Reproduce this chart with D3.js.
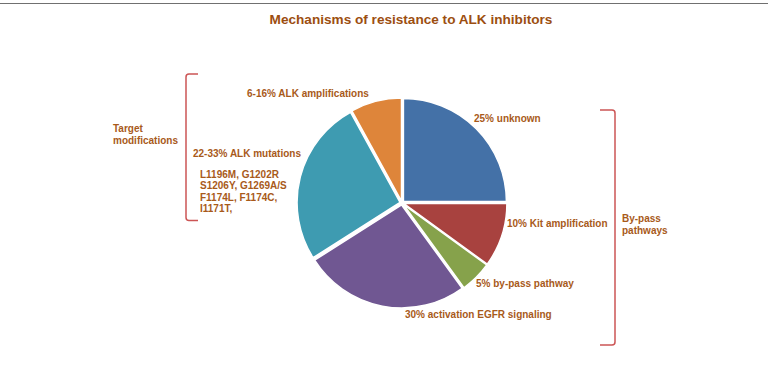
<!DOCTYPE html>
<html>
<head>
<meta charset="utf-8">
<script src="https://cdn.jsdelivr.net/npm/d3@7"></script>
<style>
  html, body { margin: 0; padding: 0; background: #fff; }
  svg { display: block; }
  text { font-family: "Liberation Sans", Arial, sans-serif; font-weight: bold; }
</style>
</head>
<body>
<svg id="chart" width="768" height="389"></svg>
<script>
// ---- data ----
const categories = ["unknown", "Kit amplification", "by-pass pathway", "activation EGFR signaling", "ALK mutations", "ALK amplifications"];
const values = [25, 10, 5, 26, 26, 8];
const sliceLabels = ["25% unknown", "10% Kit amplification", "5% by-pass pathway", "30% activation EGFR signaling", "22-33% ALK mutations", "6-16% ALK amplifications"];
const mutationLines = ["L1196M, G1202R", "S1206Y, G1269A/S", "F1174L, F1174C,", "I1171T,"];
const groupLabels = [["Target", "modifications"], ["By-pass", "pathways"]];
const titleText = "Mechanisms of resistance to ALK inhibitors";

// ---- styles / layout ----
const colors = ["#4471a7", "#a8423f", "#86a24b", "#705792", "#3e9bb1", "#de853a"];
const textColor = "#a85a1a";
const titleColor = "#9c4e10";
const bracketColor = "#cc5555";
const cx = 402, cy = 203, radius = 103, explode = 2;
// label anchor positions (x, baseline y)
const labelPos = [[474, 122], [507, 227], [476, 287], [405, 318], [193, 157], [247, 97]];

const svg = d3.select("#chart");

// top border line
svg.append("line").attr("x1", 0).attr("x2", 768).attr("y1", 3.5).attr("y2", 3.5)
  .attr("stroke", "#707070").attr("stroke-width", 1.2);

// title
svg.append("text").attr("x", 411).attr("y", 24).attr("text-anchor", "middle")
  .attr("font-size", 13.6).attr("fill", titleColor).text(titleText);

// pie
const pie = d3.pie().sort(null).value(d => d).startAngle(0).endAngle(2 * Math.PI);
const arc = d3.arc().innerRadius(0).outerRadius(radius);
const arcs = pie(values);
const g = svg.append("g").attr("transform", `translate(${cx},${cy})`);
g.selectAll("path").data(arcs).enter().append("path")
  .attr("d", arc)
  .attr("fill", (d, i) => colors[i])
  .attr("stroke", "#fff").attr("stroke-width", 1.5).attr("stroke-linejoin", "round")
  .attr("transform", d => {
    const a = (d.startAngle + d.endAngle) / 2;
    return `translate(${explode * Math.sin(a)},${-explode * Math.cos(a)})`;
  });

// slice labels
svg.selectAll("text.lbl").data(sliceLabels).enter().append("text")
  .attr("class", "lbl")
  .attr("x", (d, i) => labelPos[i][0]).attr("y", (d, i) => labelPos[i][1])
  .attr("font-size", 10).attr("fill", textColor).text(d => d);

// mutation detail lines
svg.selectAll("text.mut").data(mutationLines).enter().append("text")
  .attr("class", "mut")
  .attr("x", 200).attr("y", (d, i) => 177.5 + i * 11.5)
  .attr("font-size", 10).attr("fill", textColor).text(d => d);

// group labels
const groupPos = [[113, 132], [622, 222]];
groupLabels.forEach((lines, gi) => {
  lines.forEach((t, li) => {
    svg.append("text").attr("x", groupPos[gi][0]).attr("y", groupPos[gi][1] + li * 11.6)
      .attr("font-size", 10).attr("fill", textColor).text(t);
  });
});

// brackets
function bracket(x, y1, y2, hookX) {
  const r = 3;
  const dir = hookX > x ? 1 : -1;
  const p = d3.path();
  p.moveTo(hookX, y1);
  p.lineTo(x + dir * r, y1);
  p.quadraticCurveTo(x, y1, x, y1 + r);
  p.lineTo(x, y2 - r);
  p.quadraticCurveTo(x, y2, x + dir * r, y2);
  p.lineTo(hookX, y2);
  svg.append("path").attr("d", p.toString()).attr("fill", "none")
    .attr("stroke", bracketColor).attr("stroke-width", 1.5);
}
bracket(186, 74, 220.5, 198);
bracket(615, 110, 345, 600);
</script>
</body>
</html>
